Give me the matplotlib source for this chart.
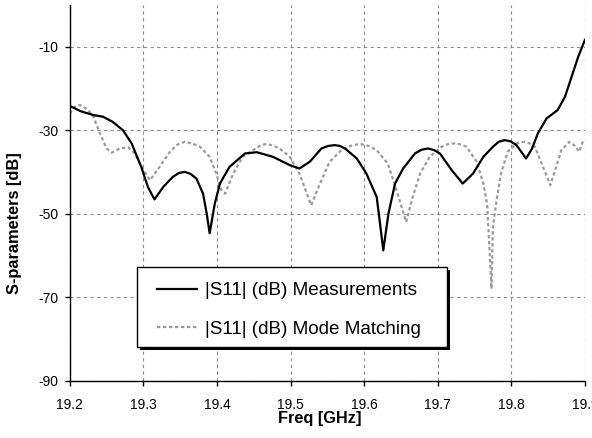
import matplotlib
matplotlib.use("Agg")
import matplotlib.pyplot as plt
from matplotlib.patches import Rectangle

plt.rcParams['font.family'] = ['Liberation Sans', 'DejaVu Sans']

meas_freq = [19.200, 19.215, 19.232, 19.245, 19.258, 19.272, 19.284, 19.297, 19.306, 19.315,
             19.327, 19.340, 19.348, 19.356, 19.364, 19.372, 19.381, 19.386, 19.390, 19.397,
             19.404, 19.417, 19.438, 19.454, 19.476, 19.499, 19.512, 19.526, 19.542, 19.551,
             19.560, 19.567, 19.574, 19.590, 19.603, 19.617, 19.621, 19.626, 19.633, 19.642,
             19.653, 19.669, 19.678, 19.687, 19.695, 19.703, 19.719, 19.734, 19.748, 19.762,
             19.775, 19.783, 19.791, 19.799, 19.807, 19.820, 19.828, 19.836, 19.848, 19.863,
             19.873, 19.882, 19.891, 19.900]
meas_db = [-24.2, -25.5, -26.4, -26.8, -28.0, -30.0, -33.2, -38.8, -43.6, -46.6,
           -43.6, -41.2, -40.3, -40.0, -40.5, -41.6, -45.2, -50.0, -54.7, -47.6,
           -42.8, -38.8, -35.6, -35.3, -36.4, -38.4, -39.2, -37.6, -34.4, -33.8,
           -33.6, -33.8, -34.4, -36.8, -40.4, -46.0, -51.6, -58.8, -50.0, -42.8,
           -39.2, -35.6, -34.7, -34.4, -34.8, -35.6, -39.6, -42.8, -40.4, -36.4,
           -34.0, -32.8, -32.4, -32.7, -33.6, -36.8, -34.5, -30.8, -27.2, -25.2,
           -22.0, -17.2, -12.4, -8.4]

mm_freq = [19.200, 19.207, 19.214, 19.225, 19.232, 19.241, 19.250, 19.257, 19.268, 19.279,
           19.288, 19.300, 19.309, 19.322, 19.336, 19.346, 19.356, 19.366, 19.377, 19.390,
           19.399, 19.406, 19.411, 19.422, 19.435, 19.449, 19.458, 19.467, 19.476, 19.485,
           19.499, 19.512, 19.528, 19.540, 19.553, 19.569, 19.581, 19.594, 19.606, 19.617,
           19.632, 19.644, 19.657, 19.666, 19.676, 19.689, 19.705, 19.713, 19.721, 19.730,
           19.739, 19.753, 19.762, 19.767, 19.770, 19.773, 19.775, 19.780, 19.786, 19.795,
           19.807, 19.812, 19.818, 19.825, 19.832, 19.843, 19.853, 19.861, 19.868, 19.879,
           19.888, 19.892, 19.898]
mm_db = [-26.0, -24.4, -24.0, -25.2, -26.8, -30.8, -34.4, -35.4, -34.4, -34.1,
         -35.6, -39.6, -42.0, -38.8, -35.2, -33.5, -32.8, -33.2, -34.0, -36.4,
         -40.4, -44.4, -45.2, -40.4, -36.4, -34.8, -33.8, -33.3, -33.7, -34.4,
         -36.4, -40.4, -48.0, -42.8, -37.6, -34.8, -33.8, -33.3, -33.8, -34.8,
         -38.0, -44.4, -52.0, -46.0, -40.4, -36.4, -34.0, -33.4, -33.2, -33.4,
         -34.0, -37.6, -42.8, -47.6, -57.2, -68.0, -53.2, -46.8, -40.4, -35.2,
         -33.2, -32.9, -32.8, -33.2, -34.0, -38.8, -43.2, -38.8, -34.8, -32.8,
         -34.0, -35.2, -32.4]

x_ticks = [19.2, 19.3, 19.4, 19.5, 19.6, 19.7, 19.8, 19.9]
y_ticks = [-90, -70, -50, -30, -10]
labels = ['|S11| (dB) Measurements', '|S11| (dB) Mode Matching']

W, H = 592, 438
fig = plt.figure(figsize=(W / 100, H / 100), dpi=100)
ax = fig.add_axes([0.118, 0.131, 0.870, 0.858])

ax.plot(meas_freq, meas_db, color='black', lw=1.6, label=labels[0], zorder=3)
ax.plot(mm_freq, mm_db, color='#9a9a9a', lw=1.6, linestyle=(0, (1.5, 1.2)),
        label=labels[1], zorder=2)

ax.set_xlim(19.2, 19.9)
ax.set_ylim(-90, 0)
ax.set_xticks(x_ticks)
ax.set_xticklabels([f'{t:.1f}' for t in x_ticks])
ax.set_yticks(y_ticks)
ax.set_yticklabels([str(t) for t in y_ticks])
ax.tick_params(axis='both', labelsize=10, direction='out', length=3.5, width=1,
               colors='black')
ax.tick_params(axis='x', pad=9)
ax.tick_params(axis='y', pad=5)
ax.grid(True, color='#8c8c8c', linestyle=(0, (3, 3)), lw=0.8)
for s in ['top', 'right']:
    ax.spines[s].set_visible(False)
for s in ['left', 'bottom']:
    ax.spines[s].set_color('black')
    ax.spines[s].set_linewidth(1.0)

ax.set_xlabel('Freq [GHz]', fontsize=11.8, fontweight='bold')
ax.xaxis.label.set_va('center')
ax.xaxis.set_label_coords(0.485, -0.102)
ax.set_ylabel('S-parameters [dB]', fontsize=11.8, fontweight='bold')
ax.yaxis.label.set_va('center')
ax.yaxis.set_label_coords(-0.107, 0.42)

# legend frame with solid shadow (pixel box of the reference legend)
bx0, by0, bx1, by1 = 137, 267, 447, 347
shadow = Rectangle(((bx0 + 3) / W, 1 - (by1 + 3) / H), (bx1 - bx0) / W, (by1 - by0) / H,
                   transform=fig.transFigure, facecolor='black', edgecolor='black',
                   lw=0, zorder=4, clip_on=False)
frame = Rectangle((bx0 / W, 1 - by1 / H), (bx1 - bx0) / W, (by1 - by0) / H,
                  transform=fig.transFigure, facecolor='white', edgecolor='black',
                  lw=1.0, zorder=4.1, clip_on=False)
ax.add_patch(shadow)
ax.add_patch(frame)

leg = ax.legend(loc='upper left', bbox_to_anchor=(157 / W, 1 - 282 / H),
                bbox_transform=fig.transFigure, borderaxespad=0, borderpad=0,
                fontsize=13.6, frameon=False, handlelength=2.1, handletextpad=0.42,
                labelspacing=1.12)
leg.set_zorder(5)

fig.savefig('out.png', dpi=100)
